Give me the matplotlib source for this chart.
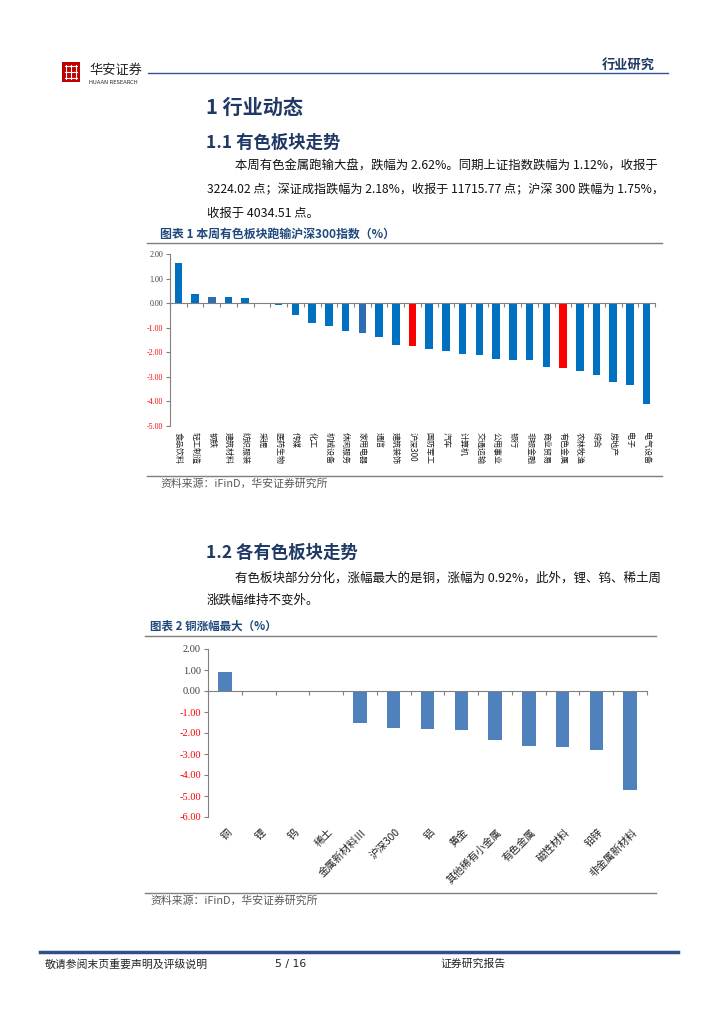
import numpy as np
import matplotlib
matplotlib.use("Agg")
import matplotlib.pyplot as plt
from matplotlib.lines import Line2D
from matplotlib.patches import Rectangle

plt.rcParams['font.family'] = ['Noto Sans CJK SC', 'DejaVu Sans']

# ---------------- data ----------------
cats1 = ['食品饮料', '轻工制造', '钢铁', '建筑材料', '纺织服装', '采掘', '医药生物', '传媒', '化工',
         '机械设备', '休闲服务', '家用电器', '通信', '建筑装饰', '沪深300', '国防军工', '汽车',
         '计算机', '交通运输', '公用事业', '银行', '非银金融', '商业贸易', '有色金属', '农林牧渔',
         '综合', '房地产', '电子', '电气设备']
vals1 = [1.63, 0.38, 0.26, 0.24, 0.21, 0.0, -0.07, -0.49, -0.79,
         -0.93, -1.12, -1.23, -1.39, -1.69, -1.75, -1.88, -1.94,
         -2.05, -2.13, -2.28, -2.31, -2.33, -2.61, -2.62, -2.76,
         -2.94, -3.19, -3.33, -4.09]
highlight1 = ['沪深300', '有色金属']
muted1 = ['钢铁', '家用电器']
yticks1 = [2, 1, 0, -1, -2, -3, -4, -5]

cats2 = ['铜', '锂', '钨', '稀土', '金属新材料Ⅲ', '沪深300', '铝', '黄金', '其他稀有小金属',
         '有色金属', '磁性材料', '铅锌', '非金属新材料']
vals2 = [0.92, 0.0, 0.0, 0.0, -1.50, -1.75, -1.82, -1.86, -2.31, -2.62, -2.67, -2.80, -4.72]
yticks2 = [2, 1, 0, -1, -2, -3, -4, -5, -6]

# ---------------- page helpers ----------------
W, H = 724, 1024
fig = plt.figure(figsize=(W / 100, H / 100), dpi=100)
fig.patch.set_facecolor('white')


def fx(x):
    return x / W


def fy(y):
    return 1 - y / H


def T(x, y, s, **kw):
    kw.setdefault('va', 'center')
    kw.setdefault('ha', 'left')
    fig.text(fx(x), fy(y), s, **kw)


def HL(x0, x1, y, **kw):
    fig.add_artist(Line2D([fx(x0), fx(x1)], [fy(y), fy(y)], transform=fig.transFigure, **kw))


NAVY = '#1F3864'
BLUE_T = '#1F497D'
GRAY_T = '#595959'
SERIF = ['Liberation Serif', 'DejaVu Serif']

# header
fig.add_artist(Rectangle((fx(62), fy(82)), 18 / W, 20 / H, transform=fig.transFigure,
                         facecolor='#C00000', edgecolor='none'))
for yy in (66, 72, 78):
    HL(65, 77, yy, color='white', lw=0.8)
for xx in (66, 71, 76):
    fig.add_artist(Line2D([fx(xx), fx(xx)], [fy(65), fy(79)], transform=fig.transFigure,
                          color='white', lw=0.8))
T(89, 70, '华安证券', fontsize=9.5, color='#222222')
T(89, 83, 'HUAAN RESEARCH', fontsize=3.8, color='#222222', family='DejaVu Sans')
HL(148, 668, 73, color='#2F5597', lw=1.0)
T(655, 65, '行业研究', fontsize=9.5, color=NAVY, ha='right', fontweight='bold')

# section 1
T(206, 107, '1 行业动态', fontsize=14.5, color=NAVY, fontweight='bold')
T(206, 143, '1.1 有色板块走势', fontsize=12.5, color=NAVY, fontweight='bold')
T(235, 166, '本周有色金属跑输大盘，跌幅为 2.62%。同期上证指数跌幅为 1.12%，收报于',
  fontsize=8.9, color='#111111')
T(207, 190, '3224.02 点；深证成指跌幅为 2.18%，收报于 11715.77 点；沪深 300 跌幅为 1.75%，',
  fontsize=8.7, color='#111111')
T(207, 213, '收报于 4034.51 点。', fontsize=8.9, color='#111111')

T(160, 234, '图表 1 本周有色板块跑输沪深300指数（%）', fontsize=8.6, color=BLUE_T, fontweight='bold')
HL(147, 662, 243, color='#7F7F7F', lw=1.0)
HL(147, 662, 476, color='#7F7F7F', lw=1.0)
T(160, 484, '资料来源：iFinD，华安证券研究所', fontsize=7.8, color=GRAY_T)

# section 1.2
T(206, 553, '1.2 各有色板块走势', fontsize=12.5, color=NAVY, fontweight='bold')
T(235, 578, '有色板块部分分化，涨幅最大的是铜，涨幅为 0.92%，此外，锂、钨、稀土周',
  fontsize=9, color='#111111')
T(207, 600, '涨跌幅维持不变外。', fontsize=9, color='#111111')

T(150, 626, '图表 2 铜涨幅最大（%）', fontsize=8.3, color=BLUE_T, fontweight='bold')
HL(145, 656, 636, color='#7F7F7F', lw=1.0)
HL(145, 656, 893, color='#7F7F7F', lw=1.0)
T(150, 901, '资料来源：iFinD，华安证券研究所', fontsize=7.8, color=GRAY_T)

# footer
HL(40, 678, 952, color='#2F4F8A', lw=2.5)
T(45, 964, '敬请参阅末页重要声明及评级说明', fontsize=7.8, color='#222222')
T(275, 964, '5 / 16', fontsize=7.8, color='#222222', family='DejaVu Sans')
T(440, 964, '证券研究报告', fontsize=7.8, color='#222222')


def style_axes(ax, yticks, fs, ymin, ymax):
    ax.set_ylim(ymin, ymax)
    for s in ('top', 'right'):
        ax.spines[s].set_visible(False)
    ax.spines['bottom'].set_position(('data', 0))
    for s in ('left', 'bottom'):
        ax.spines[s].set_color('#808080')
        ax.spines[s].set_linewidth(0.8)
    ax.set_yticks(yticks)
    ax.set_yticklabels(['%.2f' % v for v in yticks], fontsize=fs, family=SERIF)
    for lab, v in zip(ax.get_yticklabels(), yticks):
        lab.set_color('#FF0000' if v < 0 else '#404040')
    ax.tick_params(axis='y', direction='out', length=3, color='#808080', pad=2)
    ax.tick_params(axis='x', direction='out', length=3, color='#808080', labelbottom=False)
    ax.set_facecolor('none')


# chart 1
ax1 = fig.add_axes([fx(170), fy(426), (655 - 170) / W, (426 - 254) / H])
x1 = np.arange(len(cats1))
colors1 = ['#FF0000' if c in highlight1 else ('#2E6DB4' if c in muted1 else '#0070C0') for c in cats1]
ax1.bar(x1, vals1, width=0.45, color=colors1, zorder=2)
ax1.set_xlim(-0.5, len(cats1) - 0.5)
style_axes(ax1, yticks1, 5.8, -5, 2)
ax1.set_xticks(np.arange(-0.5, len(cats1), 1))
for i, c in enumerate(cats1):
    ax1.text(i, -0.035, c, transform=ax1.get_xaxis_transform(), rotation=-90,
             ha='center', va='top', fontsize=5.8, color='#222222')

# chart 2
ax2 = fig.add_axes([fx(208), fy(817), (647 - 208) / W, (817 - 649) / H])
x2 = np.arange(len(cats2))
ax2.bar(x2, vals2, width=0.4, color='#4F81BD', zorder=2)
ax2.set_xlim(-0.5, len(cats2) - 0.5)
style_axes(ax2, yticks2, 7.5, -6, 2)
ax2.set_xticks(np.arange(-0.5, len(cats2), 1))
for i, c in enumerate(cats2):
    ax2.text(i + 0.05, -0.06, c, transform=ax2.get_xaxis_transform(), rotation=45,
             rotation_mode='anchor', ha='right', va='top', fontsize=7.5, color='#222222')

fig.savefig('out.png', dpi=100, facecolor='white')
